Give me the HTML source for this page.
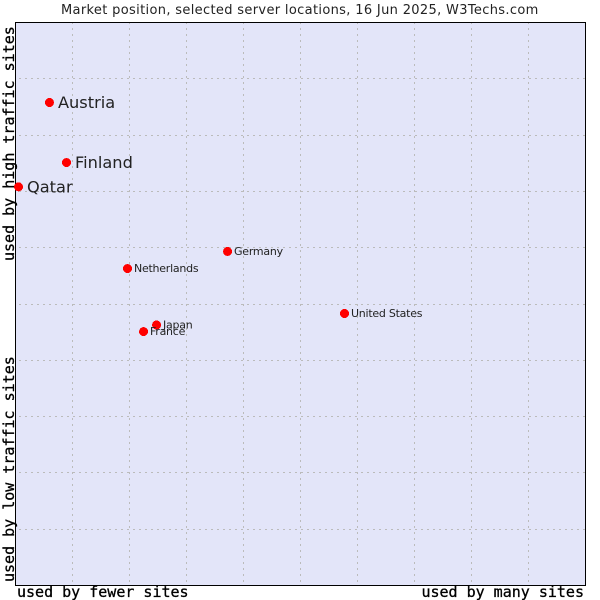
<!DOCTYPE html>
<html>
<head>
<meta charset="utf-8">
<title>Market position</title>
<style>
html,body{margin:0;padding:0;background:#fff;}
svg{display:block;}
text{font-family:"DejaVu Sans","Liberation Sans",sans-serif;fill:#222;}
.mono{font-family:"DejaVu Sans Mono","Liberation Mono",monospace;font-size:15px;fill:#000;stroke:#000;stroke-width:0.3px;}
</style>
</head>
<body>
<svg id="chart" width="600" height="600" viewBox="0 0 600 600" xmlns="http://www.w3.org/2000/svg" shape-rendering="crispEdges">
  <rect id="plot" x="15.5" y="22.5" width="570" height="563" fill="#e3e5f9" stroke="#000" stroke-width="1"></rect>
  <g id="grid"></g>
  <g id="marks"></g>
  <text x="61" y="14" font-size="13" letter-spacing="0.335" style="fill:#222">Market position, selected server locations, 16 Jun 2025, W3Techs.com</text>
  <text class="mono" x="17" y="597">used by fewer sites</text>
  <text class="mono" x="584" y="597" text-anchor="end">used by many sites</text>
  <text class="mono" transform="translate(14,582) rotate(-90)">used by low traffic sites</text>
  <text class="mono" transform="translate(14,261) rotate(-90)">used by high traffic sites</text>
</svg>
<script>
const countries = ["Austria", "Finland", "Qatar", "Germany", "Netherlands", "Japan", "France", "United States"];
const fewerManyValues = [5.96, 8.95, 0.53, 37.2, 19.65, 24.74, 22.46, 57.72];
const lowHighValues = [85.79, 75.13, 70.8, 59.33, 56.3, 46.27, 45.1, 48.31];
const highlighted = [true, true, true, false, false, false, false, false];
const gridTicks = [10, 20, 30, 40, 50, 60, 70, 80, 90];

const NS = "http://www.w3.org/2000/svg";
function xScale(v) { return 15.5 + v * 5.7; }
function yScale(v) { return 585.5 - v * 5.63; }

const grid = document.getElementById("grid");
gridTicks.forEach(function (t) {
  const vx = document.createElementNS(NS, "line");
  const px = Math.floor(xScale(t)) + 0.5;
  vx.setAttribute("x1", px);
  vx.setAttribute("x2", px);
  vx.setAttribute("y1", 23);
  vx.setAttribute("y2", 585);
  vx.setAttribute("stroke", "#bbbbbb");
  vx.setAttribute("stroke-dasharray", "2 4");
  vx.setAttribute("stroke-dashoffset", "1");
  
  
  grid.appendChild(vx);
  const hz = document.createElementNS(NS, "line");
  const py = Math.floor(yScale(t)) + 0.5;
  hz.setAttribute("x1", 19);
  hz.setAttribute("x2", 585);
  hz.setAttribute("y1", py);
  hz.setAttribute("y2", py);
  hz.setAttribute("stroke", "#bbbbbb");
  hz.setAttribute("stroke-dasharray", "2 4");
  
  
  grid.appendChild(hz);
});

const marks = document.getElementById("marks");
countries.forEach(function (name, i) {
  const cx = xScale(fewerManyValues[i]);
  const cy = yScale(lowHighValues[i]);
  const dot = document.createElementNS(NS, "circle");
  dot.setAttribute("cx", cx);
  dot.setAttribute("cy", cy);
  dot.setAttribute("r", 4.5);
  dot.setAttribute("fill", "#ff0000");
  dot.setAttribute("shape-rendering", "crispEdges");
  
  
  marks.appendChild(dot);
  const label = document.createElementNS(NS, "text");
  label.setAttribute("x", cx + (highlighted[i] ? 8.5 : 6.5));
  label.setAttribute("y", cy + (highlighted[i] ? 5.5 : 3.5));
  label.setAttribute("font-size", highlighted[i] ? 16.2 : 11);
  label.setAttribute("letter-spacing", highlighted[i] ? 0 : -0.25);
  label.textContent = name;
  
  
  marks.appendChild(label);
});
</script>
</body>
</html>
